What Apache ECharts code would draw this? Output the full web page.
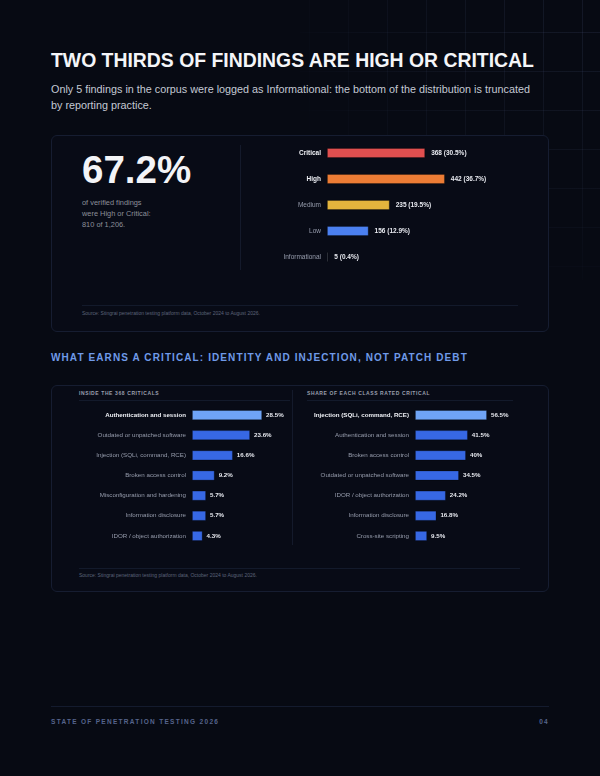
<!DOCTYPE html>
<html><head><meta charset="utf-8">
<script src="https://cdn.jsdelivr.net/npm/echarts@6/dist/echarts.min.js"></script>
<style>
html,body{margin:0;padding:0;width:600px;height:776px;background:#070a13;overflow:hidden;font-family:"Liberation Sans",Arial,Helvetica,sans-serif;}
.a{position:absolute;}
.grid{left:300px;top:0;width:300px;height:280px;
 background-image:linear-gradient(to right, rgba(130,150,210,0.11) 1px, transparent 1px),linear-gradient(to bottom, rgba(130,150,210,0.11) 1px, transparent 1px);
 background-size:39px 39px;background-position:9px 32px;
 -webkit-mask-image:radial-gradient(ellipse at 100% 0%, #000 0%, rgba(0,0,0,0.55) 45%, transparent 80%);
 mask-image:radial-gradient(ellipse at 100% 0%, #000 0%, rgba(0,0,0,0.55) 45%, transparent 80%);}
.title{left:51px;top:48px;font-size:19.4px;line-height:24px;font-weight:bold;color:#f4f5f8;white-space:nowrap;}
.sub{left:51px;top:80.5px;width:484px;font-size:10.8px;line-height:16.5px;color:#c4c9d4;}
.card{box-sizing:border-box;border:1px solid #161d31;border-radius:6px;background:#080b16;}
.big{left:82px;top:151px;font-size:38.5px;line-height:38px;font-weight:bold;color:#f3f4f7;white-space:nowrap;}
.small{left:82px;top:197px;font-size:7.4px;line-height:11px;color:#8d909a;}
.vdiv{width:1px;background:#141a2b;}
.hdiv{height:1px;background:#131a2b;}
.src{font-size:5px;line-height:8px;color:#5d6479;white-space:nowrap;}
.sec{left:51px;top:351px;font-size:10px;line-height:14px;font-weight:bold;letter-spacing:1.1px;color:#6f9ae8;white-space:nowrap;}
.ptitle{top:389px;font-size:5px;line-height:8px;font-weight:bold;letter-spacing:0.6px;color:#9a9fac;white-space:nowrap;}
.foot{top:717px;font-size:6.5px;line-height:10px;font-weight:bold;letter-spacing:1.3px;color:#56648c;white-space:nowrap;}
</style></head><body>
<div class="a grid"></div>
<div class="a title">TWO THIRDS OF FINDINGS ARE HIGH OR CRITICAL</div>
<div class="a sub">Only 5 findings in the corpus were logged as Informational: the bottom of the distribution is truncated by reporting practice.</div>

<div class="a card" style="left:51px;top:135px;width:498px;height:197px;"></div>
<div class="a big">67.2%</div>
<div class="a small">of verified findings<br>were High or Critical:<br>810 of 1,206.</div>
<div class="a vdiv" style="left:240px;top:145px;height:125px;"></div>
<div class="a" id="c1" style="left:240px;top:140px;width:309px;height:130px;"></div>
<div class="a hdiv" style="left:82px;top:305px;width:436px;"></div>
<div class="a src" style="left:82px;top:309px;">Source: Stingrai penetration testing platform data, October 2024 to August 2026.</div>

<div class="a sec">WHAT EARNS A CRITICAL: IDENTITY AND INJECTION, NOT PATCH DEBT</div>
<div class="a card" style="left:51px;top:385px;width:498px;height:207px;"></div>
<div class="a ptitle" style="left:79px;">INSIDE THE 368 CRITICALS</div>
<div class="a ptitle" style="left:307px;">SHARE OF EACH CLASS RATED CRITICAL</div>
<div class="a hdiv" style="left:79px;top:400px;width:211px;"></div>
<div class="a hdiv" style="left:307px;top:400px;width:206px;"></div>
<div class="a vdiv" style="left:292px;top:390px;height:155px;"></div>
<div class="a" id="c2" style="left:60px;top:405px;width:232px;height:141px;"></div>
<div class="a" id="c3" style="left:295px;top:405px;width:250px;height:141px;"></div>
<div class="a hdiv" style="left:79px;top:568px;width:441px;"></div>
<div class="a src" style="left:79px;top:571px;">Source: Stingrai penetration testing platform data, October 2024 to August 2026.</div>

<div class="a hdiv" style="left:51px;top:706px;width:498px;background:#141b2e;"></div>
<div class="a foot" style="left:51px;">STATE OF PENETRATION TESTING 2026</div>
<div class="a foot" style="left:449px;width:100px;text-align:right;letter-spacing:1.3px;margin-right:-1.3px;">04</div>

<script>
// ---- data ----
const severityCats = ['Critical', 'High', 'Medium', 'Low', 'Informational'];
const severityCounts = [368, 442, 235, 156, 5];
const severityPcts = ['30.5', '36.7', '19.5', '12.9', '0.4'];
const severityBold = [true, true, false, false, false];

const criticalMixCats = ['Authentication and session', 'Outdated or unpatched software', 'Injection (SQLi, command, RCE)', 'Broken access control', 'Misconfiguration and hardening', 'Information disclosure', 'IDOR / object authorization'];
const criticalMixPct = [28.5, 23.6, 16.6, 9.2, 5.7, 5.7, 4.3];

const criticalRateCats = ['Injection (SQLi, command, RCE)', 'Authentication and session', 'Broken access control', 'Outdated or unpatched software', 'IDOR / object authorization', 'Information disclosure', 'Cross-site scripting'];
const criticalRatePct = [56.5, 41.5, 40, 34.5, 24.2, 16.8, 9.5];

// ---- styles ----
const severityPalette = ['#e04f4f', '#ec7c35', '#e3b43d', '#4b80f0', '#7b8294'];
const topBlue = '#6fa4f6', baseBlue = '#3768e4';
const FONT = '"Liberation Sans", Arial, Helvetica, sans-serif';
const boldC = '#eef0f5', grayC = '#979dad';

function catData(cats, boldFlags) {
  return cats.map((c, i) => ({
    value: c,
    textStyle: boldFlags[i] ? { fontWeight: 'bold', color: boldC } : { fontWeight: 'normal', color: grayC }
  }));
}

function barOption(o) {
  return {
    animation: false,
    grid: o.grid,
    xAxis: { type: 'value', min: 0, max: o.max, show: false },
    yAxis: {
      type: 'category', inverse: true, data: o.cats,
      axisLine: { show: false }, axisTick: { show: false }, splitLine: { show: false },
      axisLabel: { margin: o.margin, fontSize: o.fs, fontFamily: FONT, color: grayC }
    },
    series: [{
      type: 'bar', barWidth: 10, data: o.data,
      itemStyle: { borderColor: 'rgba(0,0,0,0.35)', borderWidth: 0.8 },
      label: { show: true, position: 'right', distance: o.dist, fontSize: o.fs, fontFamily: FONT, fontWeight: 'bold', color: '#e8eaf0', formatter: o.fmt }
    }]
  };
}

const c1 = echarts.init(document.getElementById('c1'), null, { renderer: 'canvas' });
c1.setOption(barOption({
  grid: { left: 87, top: 0, width: 160, height: 130 },
  max: 600, margin: 6, fs: 6.5, dist: 6,
  cats: catData(severityCats, severityBold),
  data: severityCounts.map((v, i) => ({ value: v, itemStyle: { color: severityPalette[i] } })),
  fmt: p => p.value + ' (' + severityPcts[p.dataIndex] + '%)'
}));

const mixBold = criticalMixCats.map((_, i) => i === 0);
const c2 = echarts.init(document.getElementById('c2'));
c2.setOption(barOption({
  grid: { left: 132, top: 0, width: 98.4, height: 141 },
  max: 40, margin: 6, fs: 6.2, dist: 4,
  cats: catData(criticalMixCats, mixBold),
  data: criticalMixPct.map((v, i) => ({ value: v, itemStyle: { color: i === 0 ? topBlue : baseBlue } })),
  fmt: p => p.value + '%'
}));

const rateBold = criticalRateCats.map((_, i) => i === 0);
const c3 = echarts.init(document.getElementById('c3'));
c3.setOption(barOption({
  grid: { left: 120, top: 0, width: 101.9, height: 141 },
  max: 80, margin: 6, fs: 6.2, dist: 4,
  cats: catData(criticalRateCats, rateBold),
  data: criticalRatePct.map((v, i) => ({ value: v, itemStyle: { color: i === 0 ? topBlue : baseBlue } })),
  fmt: p => p.value + '%'
}));
</script>
</body></html>
